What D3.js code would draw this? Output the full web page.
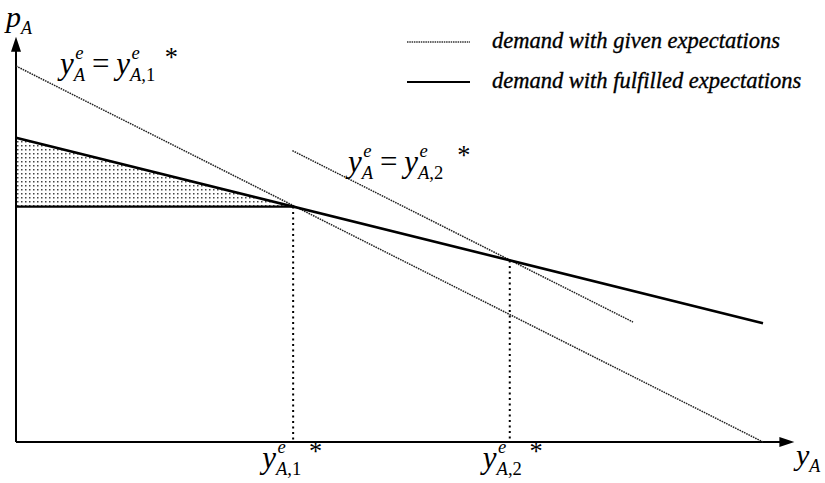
<!DOCTYPE html>
<html>
<head>
<meta charset="utf-8">
<script src="https://cdn.jsdelivr.net/npm/d3@7"></script>
<style>
  html, body { margin: 0; padding: 0; background: #fff; }
  svg { display: block; }
</style>
</head>
<body>
<svg id="chart" width="825" height="483"></svg>
<script>
// Quantity y_A on the horizontal axis, price p_A on the vertical axis (normalised units)
const givenDemand1 = [[0, 1.0], [1.0, 0]];            // demand with expectations y_A,1*
const givenDemand2 = [[0.37, 0.775], [0.826, 0.319]];  // demand with expectations y_A,2*
const fulfilledDemand = [[0, 0.809], [1.0, 0.316]];    // demand with fulfilled expectations
const equilibria = [[0.371, 0.626], [0.661, 0.483]];   // y_A,1*, y_A,2*
const legendLabels = ["demand with given expectations", "demand with fulfilled expectations"];
const axisMax = [1.042, 1.078];

const svg = d3.select("#chart");
const x = d3.scaleLinear().domain([0, 1]).range([16, 763]);
const y = d3.scaleLinear().domain([0, 1]).range([442, 66]);
const line = d3.line().x(d => x(d[0])).y(d => y(d[1]));
const serif = "'Liberation Serif'";

// dot screen for the shaded surplus triangle
const defs = svg.append("defs");
const pat = defs.append("pattern").attr("id", "dots")
  .attr("patternUnits", "userSpaceOnUse").attr("width", 4).attr("height", 4);
pat.append("rect").attr("x", 1).attr("y", 1).attr("width", 1.5).attr("height", 1.5).attr("fill", "#444");

const e1 = equilibria[0];
svg.append("path")
  .attr("d", line([[0, fulfilledDemand[0][1]], [e1[0], e1[1]], [0, e1[1]]]) + "Z")
  .attr("fill", "url(#dots)");

// axes with arrow heads
const g0 = svg.append("g").attr("stroke", "#000").attr("fill", "none");
g0.append("line").attr("x1", x(0)).attr("y1", y(0)).attr("x2", x(0)).attr("y2", y(axisMax[1]) + 10).attr("stroke-width", 2);
g0.append("line").attr("x1", x(0)).attr("y1", y(0)).attr("x2", x(axisMax[0]) - 10).attr("y2", y(0)).attr("stroke-width", 2);
svg.append("path")
  .attr("d", `M${x(0)},${y(axisMax[1])} L${x(0) - 5},${y(axisMax[1]) + 15} L${x(0) + 5},${y(axisMax[1]) + 15} Z`)
  .attr("fill", "#000");
svg.append("path")
  .attr("d", `M${x(axisMax[0])},${y(0)} L${x(axisMax[0]) - 15},${y(0) - 5} L${x(axisMax[0]) - 15},${y(0) + 5} Z`)
  .attr("fill", "#000");

// dotted demand curves with given expectations
[givenDemand1, givenDemand2].forEach(d => {
  svg.append("path").attr("d", line(d))
    .attr("fill", "none").attr("stroke", "#222").attr("stroke-width", 1.5)
    .attr("stroke-dasharray", "1.6,0.9");
});

// drop lines from the equilibria to the quantity axis
equilibria.forEach(d => {
  svg.append("line")
    .attr("x1", x(d[0])).attr("x2", x(d[0]))
    .attr("y1", y(d[1])).attr("y2", y(0))
    .attr("stroke", "#000").attr("stroke-width", 2).attr("stroke-dasharray", "2,3.5");
});

// horizontal price line at the first equilibrium
svg.append("line")
  .attr("x1", x(0)).attr("x2", x(e1[0]))
  .attr("y1", y(e1[1])).attr("y2", y(e1[1]))
  .attr("stroke", "#000").attr("stroke-width", 2.4);

// demand with fulfilled expectations
svg.append("path").attr("d", line(fulfilledDemand))
  .attr("fill", "none").attr("stroke", "#000").attr("stroke-width", 2.6);

// legend
const lg = svg.append("g");
legendLabels.forEach((t, i) => {
  const ly = 42 + i * 40;
  lg.append("line").attr("x1", 407).attr("x2", 470).attr("y1", ly).attr("y2", ly)
    .attr("stroke", i === 0 ? "#333" : "#000")
    .attr("stroke-width", i === 0 ? 1.3 : 2)
    .attr("stroke-dasharray", i === 0 ? "1.5,0.8" : null);
  lg.append("text").attr("x", 492).attr("y", ly + 6)
    .style("font-family", serif).style("font-style", "italic").style("font-size", "22.5px")
    .attr("stroke", "#000").attr("stroke-width", 0.35)
    .text(t);
});

// typeset a symbol with stacked super/subscripts
function mathText(x0, y0, size, items) {
  const g = svg.append("g");
  let cx = x0;
  items.forEach(it => {
    if (it.base !== undefined) {
      const t = g.append("text").attr("x", cx).attr("y", y0 - (it.raise || 0) * size)
        .style("font-family", serif)
        .style("font-size", size * (it.scale || 1) + "px")
        .style("font-style", it.italic === false ? "normal" : "italic").text(it.base);
      cx += t.node().getComputedTextLength() + (it.gap || 0) * size;
    } else {
      let w = 0;
      if (it.sup) {
        const t = g.append("text").attr("x", cx + (it.supShift || 0) * size).attr("y", y0 - size * 0.48)
          .style("font-family", serif)
          .style("font-size", size * 0.6 + "px").style("font-style", "italic").text(it.sup);
        w = Math.max(w, t.node().getComputedTextLength() + (it.supShift || 0) * size);
      }
      if (it.sub) {
        const t = g.append("text").attr("x", cx).attr("y", y0 + size * 0.22)
          .style("font-family", serif)
          .style("font-size", size * 0.6 + "px");
        it.sub.forEach(s => t.append("tspan").style("font-style", s[1] ? "italic" : "normal").text(s[0]));
        w = Math.max(w, t.node().getComputedTextLength());
      }
      cx += w + (it.gap || 0) * size;
    }
  });
  return g;
}

const A = [["A", true]];
const A1 = [["A", true], [",1", false]];
const A2 = [["A", true], [",2", false]];

// curve labels
mathText(60, 74, 31, [
  { base: "y" }, { sup: "e", sub: A, supShift: 0.05, gap: 0.22 },
  { base: "=", italic: false, gap: 0.22 },
  { base: "y" }, { sup: "e", sub: A1, supShift: 0.05, gap: 0.3 },
  { base: "*", italic: false, raise: 0.25, scale: 0.85 }
]);
mathText(348, 172, 31, [
  { base: "y" }, { sup: "e", sub: A, supShift: 0.05, gap: 0.22 },
  { base: "=", italic: false, gap: 0.22 },
  { base: "y" }, { sup: "e", sub: A2, supShift: 0.05, gap: 0.45 },
  { base: "*", italic: false, raise: 0.25, scale: 0.85 }
]);

// equilibrium quantity labels
mathText(x(equilibria[0][0]) - 31, 468, 31, [
  { base: "y" }, { sup: "e", sub: A1, supShift: 0.05, gap: 0.25 },
  { base: "*", italic: false, raise: 0.25, scale: 0.85 }
]);
mathText(x(equilibria[1][0]) - 27, 468, 31, [
  { base: "y" }, { sup: "e", sub: A2, supShift: 0.05, gap: 0.25 },
  { base: "*", italic: false, raise: 0.25, scale: 0.85 }
]);

// axis titles
mathText(6, 27, 30, [{ base: "p" }, { sub: A }]);
mathText(796, 465, 30, [{ base: "y" }, { sub: A }]);
</script>
</body>
</html>
